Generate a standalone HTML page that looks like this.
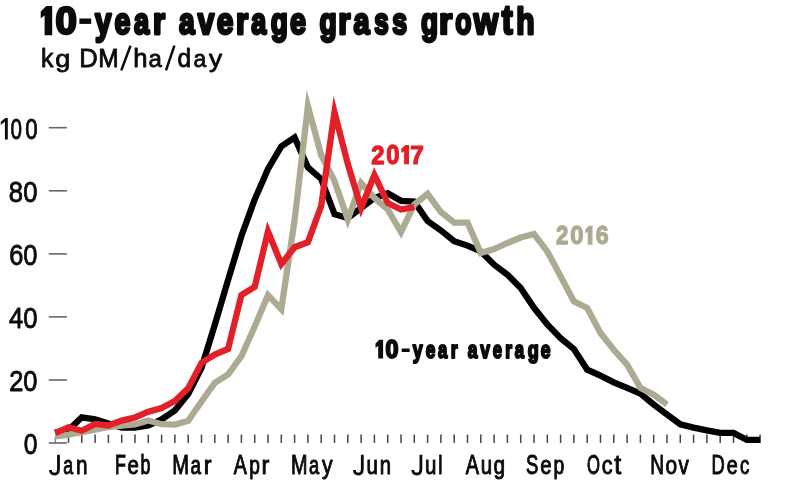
<!DOCTYPE html>
<html><head><meta charset="utf-8"><title>10-year average grass growth</title>
<style>html,body{margin:0;padding:0;background:#fff;}svg{display:block;}body{font-family:"Liberation Sans",sans-serif;}</style></head>
<body>
<svg width="790" height="482" viewBox="0 0 790 482">
<rect width="790" height="482" fill="#fff"/>
<g stroke="#666" stroke-width="1.6">
<line x1="48.8" x2="66.9" y1="127.7" y2="127.7"/>
<line x1="48.8" x2="66.9" y1="190.8" y2="190.8"/>
<line x1="48.8" x2="66.9" y1="253.9" y2="253.9"/>
<line x1="48.8" x2="66.9" y1="316.9" y2="316.9"/>
<line x1="48.8" x2="66.9" y1="380.0" y2="380.0"/>
<line x1="48.8" x2="66.9" y1="443.0" y2="443.0"/>
</g>
<g stroke="#444" stroke-width="1.5">
<line x1="68.5" x2="68.5" y1="434.6" y2="442.9"/>
<line x1="81.8" x2="81.8" y1="434.6" y2="442.9"/>
<line x1="95.1" x2="95.1" y1="434.6" y2="442.9"/>
<line x1="108.4" x2="108.4" y1="434.6" y2="442.9"/>
<line x1="121.7" x2="121.7" y1="434.6" y2="442.9"/>
<line x1="135.0" x2="135.0" y1="434.6" y2="442.9"/>
<line x1="148.3" x2="148.3" y1="434.6" y2="442.9"/>
<line x1="161.6" x2="161.6" y1="434.6" y2="442.9"/>
<line x1="174.9" x2="174.9" y1="434.6" y2="442.9"/>
<line x1="188.2" x2="188.2" y1="434.6" y2="442.9"/>
<line x1="201.5" x2="201.5" y1="434.6" y2="442.9"/>
<line x1="214.8" x2="214.8" y1="434.6" y2="442.9"/>
<line x1="228.1" x2="228.1" y1="434.6" y2="442.9"/>
<line x1="241.4" x2="241.4" y1="434.6" y2="442.9"/>
<line x1="254.7" x2="254.7" y1="434.6" y2="442.9"/>
<line x1="268.0" x2="268.0" y1="434.6" y2="442.9"/>
<line x1="281.3" x2="281.3" y1="434.6" y2="442.9"/>
<line x1="294.6" x2="294.6" y1="434.6" y2="442.9"/>
<line x1="307.9" x2="307.9" y1="434.6" y2="442.9"/>
<line x1="321.2" x2="321.2" y1="434.6" y2="442.9"/>
<line x1="334.5" x2="334.5" y1="434.6" y2="442.9"/>
<line x1="347.8" x2="347.8" y1="434.6" y2="442.9"/>
<line x1="361.1" x2="361.1" y1="434.6" y2="442.9"/>
<line x1="374.4" x2="374.4" y1="434.6" y2="442.9"/>
<line x1="387.7" x2="387.7" y1="434.6" y2="442.9"/>
<line x1="401.0" x2="401.0" y1="434.6" y2="442.9"/>
<line x1="414.3" x2="414.3" y1="434.6" y2="442.9"/>
<line x1="427.6" x2="427.6" y1="434.6" y2="442.9"/>
<line x1="440.9" x2="440.9" y1="434.6" y2="442.9"/>
<line x1="454.2" x2="454.2" y1="434.6" y2="442.9"/>
<line x1="467.5" x2="467.5" y1="434.6" y2="442.9"/>
<line x1="480.8" x2="480.8" y1="434.6" y2="442.9"/>
<line x1="494.1" x2="494.1" y1="434.6" y2="442.9"/>
<line x1="507.4" x2="507.4" y1="434.6" y2="442.9"/>
<line x1="520.7" x2="520.7" y1="434.6" y2="442.9"/>
<line x1="534.0" x2="534.0" y1="434.6" y2="442.9"/>
<line x1="547.3" x2="547.3" y1="434.6" y2="442.9"/>
<line x1="560.6" x2="560.6" y1="434.6" y2="442.9"/>
<line x1="573.9" x2="573.9" y1="434.6" y2="442.9"/>
<line x1="587.2" x2="587.2" y1="434.6" y2="442.9"/>
<line x1="600.5" x2="600.5" y1="434.6" y2="442.9"/>
<line x1="613.8" x2="613.8" y1="434.6" y2="442.9"/>
<line x1="627.1" x2="627.1" y1="434.6" y2="442.9"/>
<line x1="640.4" x2="640.4" y1="434.6" y2="442.9"/>
<line x1="653.7" x2="653.7" y1="434.6" y2="442.9"/>
<line x1="667.0" x2="667.0" y1="434.6" y2="442.9"/>
<line x1="680.3" x2="680.3" y1="434.6" y2="442.9"/>
<line x1="693.6" x2="693.6" y1="434.6" y2="442.9"/>
<line x1="706.9" x2="706.9" y1="434.6" y2="442.9"/>
<line x1="720.2" x2="720.2" y1="434.6" y2="442.9"/>
<line x1="733.5" x2="733.5" y1="434.6" y2="442.9"/>
<line x1="746.8" x2="746.8" y1="434.6" y2="442.9"/>
<line x1="760.1" x2="760.1" y1="434.6" y2="442.9"/>
</g>
<line x1="55.2" x2="55.2" y1="437" y2="442.9" stroke="#666" stroke-width="1.1"/>
<path d="M55.2 432.6 L68.5 430.0 L81.8 417.3 L95.1 419.4 L108.4 423.5 L121.7 427.5 L135.0 427.5 L148.3 425.5 L161.6 419.4 L174.9 410.3 L188.2 394.0 L201.5 367.8 L214.8 324.8 L228.1 279.8 L241.4 236.0 L254.7 199.5 L268.0 169.0 L281.3 146.5 L294.6 137.4 L307.9 167.4 L321.2 179.0 L334.5 214.2 L347.8 218.0 L361.1 208.0 L374.4 198.0 L387.7 193.3 L401.0 200.8 L414.3 201.6 L427.6 221.0 L440.9 230.4 L454.2 241.2 L467.5 245.6 L480.8 251.4 L494.1 264.7 L507.4 274.6 L520.7 287.9 L534.0 307.8 L547.3 324.4 L560.6 338.1 L573.9 349.1 L587.2 369.7 L600.5 375.6 L613.8 382.3 L627.1 387.9 L640.4 393.6 L653.7 404.5 L667.0 414.5 L680.3 424.4 L693.6 427.6 L706.9 430.3 L720.2 432.9 L733.5 432.9 L746.8 439.9 L760.1 439.9" fill="none" stroke="#000" stroke-width="6.3" stroke-linejoin="miter" stroke-miterlimit="10" stroke-linecap="butt"/>
<path d="M55.2 436.4 L68.5 434.6 L81.8 432.2 L95.1 429.6 L108.4 427.0 L121.7 425.5 L135.0 424.5 L148.3 420.5 L161.6 424.2 L174.9 424.6 L188.2 420.7 L201.5 401.5 L214.8 382.8 L228.1 374.5 L241.4 356.2 L254.7 326.5 L268.0 295.2 L281.3 309.2 L294.6 220.0 L307.9 106.2 L321.2 155.0 L334.5 181.0 L347.8 219.5 L361.1 183.0 L374.4 197.9 L387.7 209.5 L401.0 232.0 L414.3 204.5 L427.6 193.8 L440.9 212.0 L454.2 222.6 L467.5 222.6 L480.8 253.0 L494.1 249.0 L507.4 243.0 L520.7 237.5 L534.0 234.0 L547.3 251.4 L560.6 276.3 L573.9 301.4 L587.2 308.0 L600.5 333.0 L613.8 349.8 L627.1 364.7 L640.4 387.9 L653.7 394.6 L667.0 404.5" fill="none" stroke="#adaa93" stroke-width="6.3" stroke-linejoin="miter" stroke-miterlimit="10" stroke-linecap="butt"/>
<path d="M55.2 433.2 L68.5 427.3 L81.8 430.7 L95.1 423.9 L108.4 425.5 L121.7 420.6 L135.0 417.5 L148.3 411.7 L161.6 408.0 L174.9 401.0 L188.2 388.2 L201.5 362.9 L214.8 354.6 L228.1 349.0 L241.4 295.0 L254.7 286.9 L268.0 231.5 L281.3 264.0 L294.6 247.2 L307.9 242.2 L321.2 206.0 L334.5 112.2 L347.8 164.0 L361.1 208.0 L374.4 175.0 L387.7 203.0 L401.0 209.5 L414.3 207.2" fill="none" stroke="#e31f28" stroke-width="6.3" stroke-linejoin="miter" stroke-miterlimit="10" stroke-linecap="butt"/>
<path d="M52.2 5.9 L46.3 5.9 L40.7 11.6 L40.7 18.2 L44.6 15.6 L44.6 35.2 L52.2 35.2 Z" fill="#0b0b0b"/><path d="M121.3 70.4 L130.5 45.7 M166.0 70.4 L174.4 45.7" stroke="#0b0b0b" stroke-width="2.5" fill="none"/><path d="M409 144.9 L405.3 144.9 L401.3 148.8 L401.3 153.0 L404.1 151.2 L404.1 164.3 L409 164.3 Z" fill="#e31f28"/><path d="M592.5 225.7 L588.9 225.7 L585.3 229.4 L585.3 233.6 L587.7 231.8 L587.7 244.7 L592.5 244.7 Z" fill="#adaa93"/><path d="M383.1 339.8 L379.4 339.8 L375.5 343.6 L375.5 347.8 L378.2 346.0 L378.2 358.5 L383.1 358.5 Z" fill="#0b0b0b"/><rect x="79.4" y="18.5" width="11.8" height="5.4" fill="#0b0b0b"/><rect x="401.7" y="348.5" width="8.0" height="3.5" fill="#0b0b0b"/><path d="M7.8 117.9 L5.3 117.9 L0.8 121.8 L0.8 125.0 L4.9 121.6 L4.9 139.5 L7.8 139.5 Z" fill="#0b0b0b"/><path d="M58.50 454.80 V468.40 C58.50 472.60 56.70 474.00 54.50 474.00 S50.50 473.00 50.50 470.00" fill="none" stroke="#0b0b0b" stroke-width="2.8"/><path d="M362.30 454.80 V468.40 C362.30 472.60 360.50 474.00 358.35 474.00 S354.40 473.00 354.40 470.00" fill="none" stroke="#0b0b0b" stroke-width="2.8"/><path d="M420.90 454.80 V468.40 C420.90 472.60 419.10 474.00 416.85 474.00 S412.80 473.00 412.80 470.00" fill="none" stroke="#0b0b0b" stroke-width="2.8"/>
<g opacity="0.999" font-family="'Liberation Sans', sans-serif" font-size="100" stroke-linejoin="round">
<text transform="translate(55.50 34.31) scale(0.3837 0.3944)" font-weight="bold" fill="#0b0b0b" stroke="#0b0b0b" stroke-width="2.6" vector-effect="non-scaling-stroke">0</text>
<text transform="translate(95.05 34.01) scale(0.2946 0.3662)" font-weight="bold" fill="#0b0b0b" stroke="#0b0b0b" stroke-width="2.6" vector-effect="non-scaling-stroke">y</text>
<text transform="translate(114.39 34.23) scale(0.2860 0.3709)" font-weight="bold" fill="#0b0b0b" stroke="#0b0b0b" stroke-width="2.6" vector-effect="non-scaling-stroke">e</text>
<text transform="translate(133.90 34.23) scale(0.2727 0.3709)" font-weight="bold" fill="#0b0b0b" stroke="#0b0b0b" stroke-width="2.6" vector-effect="non-scaling-stroke">a</text>
<text transform="translate(152.89 34.10) scale(0.3094 0.3611)" font-weight="bold" fill="#0b0b0b" stroke="#0b0b0b" stroke-width="2.6" vector-effect="non-scaling-stroke">r</text>
<text transform="translate(178.89 34.23) scale(0.2818 0.3709)" font-weight="bold" fill="#0b0b0b" stroke="#0b0b0b" stroke-width="2.6" vector-effect="non-scaling-stroke">a</text>
<text transform="translate(197.65 34.10) scale(0.2964 0.3679)" font-weight="bold" fill="#0b0b0b" stroke="#0b0b0b" stroke-width="2.6" vector-effect="non-scaling-stroke">v</text>
<text transform="translate(216.75 34.23) scale(0.3000 0.3709)" font-weight="bold" fill="#0b0b0b" stroke="#0b0b0b" stroke-width="2.6" vector-effect="non-scaling-stroke">e</text>
<text transform="translate(235.98 34.10) scale(0.3125 0.3611)" font-weight="bold" fill="#0b0b0b" stroke="#0b0b0b" stroke-width="2.6" vector-effect="non-scaling-stroke">r</text>
<text transform="translate(251.31 34.23) scale(0.2691 0.3709)" font-weight="bold" fill="#0b0b0b" stroke="#0b0b0b" stroke-width="2.6" vector-effect="non-scaling-stroke">a</text>
<text transform="translate(270.73 34.10) scale(0.2804 0.3618)" font-weight="bold" fill="#0b0b0b" stroke="#0b0b0b" stroke-width="2.6" vector-effect="non-scaling-stroke">g</text>
<text transform="translate(289.89 34.23) scale(0.2880 0.3709)" font-weight="bold" fill="#0b0b0b" stroke="#0b0b0b" stroke-width="2.6" vector-effect="non-scaling-stroke">e</text>
<text transform="translate(319.42 34.10) scale(0.2824 0.3618)" font-weight="bold" fill="#0b0b0b" stroke="#0b0b0b" stroke-width="2.6" vector-effect="non-scaling-stroke">g</text>
<text transform="translate(338.28 34.10) scale(0.3125 0.3611)" font-weight="bold" fill="#0b0b0b" stroke="#0b0b0b" stroke-width="2.6" vector-effect="non-scaling-stroke">r</text>
<text transform="translate(353.47 34.23) scale(0.2891 0.3709)" font-weight="bold" fill="#0b0b0b" stroke="#0b0b0b" stroke-width="2.6" vector-effect="non-scaling-stroke">a</text>
<text transform="translate(374.17 34.23) scale(0.2592 0.3709)" font-weight="bold" fill="#0b0b0b" stroke="#0b0b0b" stroke-width="2.6" vector-effect="non-scaling-stroke">s</text>
<text transform="translate(392.15 34.23) scale(0.2673 0.3709)" font-weight="bold" fill="#0b0b0b" stroke="#0b0b0b" stroke-width="2.6" vector-effect="non-scaling-stroke">s</text>
<text transform="translate(420.94 34.10) scale(0.2784 0.3618)" font-weight="bold" fill="#0b0b0b" stroke="#0b0b0b" stroke-width="2.6" vector-effect="non-scaling-stroke">g</text>
<text transform="translate(439.01 34.10) scale(0.3406 0.3611)" font-weight="bold" fill="#0b0b0b" stroke="#0b0b0b" stroke-width="2.6" vector-effect="non-scaling-stroke">r</text>
<text transform="translate(455.35 34.23) scale(0.2655 0.3709)" font-weight="bold" fill="#0b0b0b" stroke="#0b0b0b" stroke-width="2.6" vector-effect="non-scaling-stroke">o</text>
<text transform="translate(473.86 34.10) scale(0.3139 0.3679)" font-weight="bold" fill="#0b0b0b" stroke="#0b0b0b" stroke-width="2.6" vector-effect="non-scaling-stroke">w</text>
<text transform="translate(501.72 34.09) scale(0.3281 0.4119)" font-weight="bold" fill="#0b0b0b" stroke="#0b0b0b" stroke-width="2.6" vector-effect="non-scaling-stroke">t</text>
<text transform="translate(516.25 34.10) scale(0.3000 0.3753)" font-weight="bold" fill="#0b0b0b" stroke="#0b0b0b" stroke-width="2.6" vector-effect="non-scaling-stroke">h</text>
<text transform="translate(40.91 66.80) scale(0.2489 0.2548)" font-weight="normal" fill="#0b0b0b" stroke="#0b0b0b" stroke-width="0.8" vector-effect="non-scaling-stroke">k</text>
<text transform="translate(55.21 67.15) scale(0.2717 0.2453)" font-weight="normal" fill="#0b0b0b" stroke="#0b0b0b" stroke-width="0.8" vector-effect="non-scaling-stroke">g</text>
<text transform="translate(79.15 66.80) scale(0.2567 0.2580)" font-weight="normal" fill="#0b0b0b" stroke="#0b0b0b" stroke-width="0.8" vector-effect="non-scaling-stroke">D</text>
<text transform="translate(98.24 66.80) scale(0.2456 0.2580)" font-weight="normal" fill="#0b0b0b" stroke="#0b0b0b" stroke-width="0.8" vector-effect="non-scaling-stroke">M</text>
<text transform="translate(133.26 66.80) scale(0.2568 0.2548)" font-weight="normal" fill="#0b0b0b" stroke="#0b0b0b" stroke-width="0.8" vector-effect="non-scaling-stroke">h</text>
<text transform="translate(148.44 66.86) scale(0.2404 0.2400)" font-weight="normal" fill="#0b0b0b" stroke="#0b0b0b" stroke-width="0.8" vector-effect="non-scaling-stroke">a</text>
<text transform="translate(177.53 66.84) scale(0.2435 0.2554)" font-weight="normal" fill="#0b0b0b" stroke="#0b0b0b" stroke-width="0.8" vector-effect="non-scaling-stroke">d</text>
<text transform="translate(193.38 66.86) scale(0.2288 0.2400)" font-weight="normal" fill="#0b0b0b" stroke="#0b0b0b" stroke-width="0.8" vector-effect="non-scaling-stroke">a</text>
<text transform="translate(208.90 67.19) scale(0.2620 0.2432)" font-weight="normal" fill="#0b0b0b" stroke="#0b0b0b" stroke-width="0.8" vector-effect="non-scaling-stroke">y</text>
<text transform="translate(371.18 163.70) scale(0.2388 0.2657)" font-weight="bold" fill="#e31f28" stroke="#e31f28" stroke-width="1.2" vector-effect="non-scaling-stroke">2</text>
<text transform="translate(386.18 163.83) scale(0.2388 0.2704)" font-weight="bold" fill="#e31f28" stroke="#e31f28" stroke-width="1.2" vector-effect="non-scaling-stroke">0</text>
<text transform="translate(410.23 163.70) scale(0.2437 0.2600)" font-weight="bold" fill="#e31f28" stroke="#e31f28" stroke-width="1.2" vector-effect="non-scaling-stroke">7</text>
<text transform="translate(556.03 244.10) scale(0.2224 0.2600)" font-weight="bold" fill="#adaa93" stroke="#adaa93" stroke-width="1.2" vector-effect="non-scaling-stroke">2</text>
<text transform="translate(570.18 244.24) scale(0.2388 0.2648)" font-weight="bold" fill="#adaa93" stroke="#adaa93" stroke-width="1.2" vector-effect="non-scaling-stroke">0</text>
<text transform="translate(595.71 244.24) scale(0.2306 0.2620)" font-weight="bold" fill="#adaa93" stroke="#adaa93" stroke-width="1.2" vector-effect="non-scaling-stroke">6</text>
<text transform="translate(385.55 357.80) scale(0.2327 0.2507)" font-weight="bold" fill="#0b0b0b" stroke="#0b0b0b" stroke-width="1.9" vector-effect="non-scaling-stroke">0</text>
<text transform="translate(412.85 357.73) scale(0.1786 0.2392)" font-weight="bold" fill="#0b0b0b" stroke="#0b0b0b" stroke-width="1.9" vector-effect="non-scaling-stroke">y</text>
<text transform="translate(425.63 357.71) scale(0.1720 0.2436)" font-weight="bold" fill="#0b0b0b" stroke="#0b0b0b" stroke-width="1.9" vector-effect="non-scaling-stroke">e</text>
<text transform="translate(438.12 357.71) scale(0.1673 0.2436)" font-weight="bold" fill="#0b0b0b" stroke="#0b0b0b" stroke-width="1.9" vector-effect="non-scaling-stroke">a</text>
<text transform="translate(450.68 357.65) scale(0.1781 0.2370)" font-weight="bold" fill="#0b0b0b" stroke="#0b0b0b" stroke-width="1.9" vector-effect="non-scaling-stroke">r</text>
<text transform="translate(467.80 357.71) scale(0.1745 0.2436)" font-weight="bold" fill="#0b0b0b" stroke="#0b0b0b" stroke-width="1.9" vector-effect="non-scaling-stroke">a</text>
<text transform="translate(480.15 357.65) scale(0.1750 0.2415)" font-weight="bold" fill="#0b0b0b" stroke="#0b0b0b" stroke-width="1.9" vector-effect="non-scaling-stroke">v</text>
<text transform="translate(492.85 357.71) scale(0.1660 0.2436)" font-weight="bold" fill="#0b0b0b" stroke="#0b0b0b" stroke-width="1.9" vector-effect="non-scaling-stroke">e</text>
<text transform="translate(505.20 357.65) scale(0.1750 0.2370)" font-weight="bold" fill="#0b0b0b" stroke="#0b0b0b" stroke-width="1.9" vector-effect="non-scaling-stroke">r</text>
<text transform="translate(514.72 357.71) scale(0.1673 0.2436)" font-weight="bold" fill="#0b0b0b" stroke="#0b0b0b" stroke-width="1.9" vector-effect="non-scaling-stroke">a</text>
<text transform="translate(527.63 357.72) scale(0.1804 0.2395)" font-weight="bold" fill="#0b0b0b" stroke="#0b0b0b" stroke-width="1.9" vector-effect="non-scaling-stroke">g</text>
<text transform="translate(540.73 357.71) scale(0.1740 0.2436)" font-weight="bold" fill="#0b0b0b" stroke="#0b0b0b" stroke-width="1.9" vector-effect="non-scaling-stroke">e</text>
<text transform="translate(10.48 138.91) scale(0.2061 0.2930)" font-weight="normal" fill="#0b0b0b" stroke="#0b0b0b" stroke-width="0.8" vector-effect="non-scaling-stroke">0</text>
<text transform="translate(8.87 202.01) scale(0.2567 0.2930)" font-weight="normal" fill="#0b0b0b" stroke="#0b0b0b" stroke-width="0.8" vector-effect="non-scaling-stroke">80</text>
<text transform="translate(9.13 265.11) scale(0.2543 0.2930)" font-weight="normal" fill="#0b0b0b" stroke="#0b0b0b" stroke-width="0.8" vector-effect="non-scaling-stroke">60</text>
<text transform="translate(8.89 328.11) scale(0.2566 0.2930)" font-weight="normal" fill="#0b0b0b" stroke="#0b0b0b" stroke-width="0.8" vector-effect="non-scaling-stroke">40</text>
<text transform="translate(9.13 391.21) scale(0.2543 0.2930)" font-weight="normal" fill="#0b0b0b" stroke="#0b0b0b" stroke-width="0.8" vector-effect="non-scaling-stroke">20</text>
<text transform="translate(23.86 454.21) scale(0.2469 0.2930)" font-weight="normal" fill="#0b0b0b" stroke="#0b0b0b" stroke-width="0.8" vector-effect="non-scaling-stroke">0</text>
<text transform="translate(25.13 138.91) scale(0.2224 0.2930)" font-weight="normal" fill="#0b0b0b" stroke="#0b0b0b" stroke-width="0.8" vector-effect="non-scaling-stroke">0</text>
<text transform="translate(63.24 474.38) scale(0.1769 0.2655)" font-weight="normal" fill="#0b0b0b" stroke="#0b0b0b" stroke-width="0.9" vector-effect="non-scaling-stroke">a</text>
<text transform="translate(76.01 474.25) scale(0.2068 0.2574)" font-weight="normal" fill="#0b0b0b" stroke="#0b0b0b" stroke-width="0.9" vector-effect="non-scaling-stroke">n</text>
<text transform="translate(115.03 474.25) scale(0.1780 0.2710)" font-weight="normal" fill="#0b0b0b" stroke="#0b0b0b" stroke-width="0.9" vector-effect="non-scaling-stroke">F</text>
<text transform="translate(127.53 474.38) scale(0.2042 0.2655)" font-weight="normal" fill="#0b0b0b" stroke="#0b0b0b" stroke-width="0.9" vector-effect="non-scaling-stroke">e</text>
<text transform="translate(140.48 474.38) scale(0.1783 0.2676)" font-weight="normal" fill="#0b0b0b" stroke="#0b0b0b" stroke-width="0.9" vector-effect="non-scaling-stroke">b</text>
<text transform="translate(172.24 474.25) scale(0.2015 0.2710)" font-weight="normal" fill="#0b0b0b" stroke="#0b0b0b" stroke-width="0.9" vector-effect="non-scaling-stroke">M</text>
<text transform="translate(190.50 474.38) scale(0.1885 0.2655)" font-weight="normal" fill="#0b0b0b" stroke="#0b0b0b" stroke-width="0.9" vector-effect="non-scaling-stroke">a</text>
<text transform="translate(203.74 474.25) scale(0.2346 0.2574)" font-weight="normal" fill="#0b0b0b" stroke="#0b0b0b" stroke-width="0.9" vector-effect="non-scaling-stroke">r</text>
<text transform="translate(233.65 474.25) scale(0.1955 0.2710)" font-weight="normal" fill="#0b0b0b" stroke="#0b0b0b" stroke-width="0.9" vector-effect="non-scaling-stroke">A</text>
<text transform="translate(249.30 474.45) scale(0.1913 0.2667)" font-weight="normal" fill="#0b0b0b" stroke="#0b0b0b" stroke-width="0.9" vector-effect="non-scaling-stroke">p</text>
<text transform="translate(261.54 474.25) scale(0.2346 0.2574)" font-weight="normal" fill="#0b0b0b" stroke="#0b0b0b" stroke-width="0.9" vector-effect="non-scaling-stroke">r</text>
<text transform="translate(291.06 474.25) scale(0.1985 0.2710)" font-weight="normal" fill="#0b0b0b" stroke="#0b0b0b" stroke-width="0.9" vector-effect="non-scaling-stroke">M</text>
<text transform="translate(309.12 474.38) scale(0.1827 0.2655)" font-weight="normal" fill="#0b0b0b" stroke="#0b0b0b" stroke-width="0.9" vector-effect="non-scaling-stroke">a</text>
<text transform="translate(321.95 474.46) scale(0.2120 0.2662)" font-weight="normal" fill="#0b0b0b" stroke="#0b0b0b" stroke-width="0.9" vector-effect="non-scaling-stroke">y</text>
<text transform="translate(366.42 474.39) scale(0.2047 0.2593)" font-weight="normal" fill="#0b0b0b" stroke="#0b0b0b" stroke-width="0.9" vector-effect="non-scaling-stroke">u</text>
<text transform="translate(379.64 474.25) scale(0.2023 0.2574)" font-weight="normal" fill="#0b0b0b" stroke="#0b0b0b" stroke-width="0.9" vector-effect="non-scaling-stroke">n</text>
<text transform="translate(425.02 474.39) scale(0.2047 0.2593)" font-weight="normal" fill="#0b0b0b" stroke="#0b0b0b" stroke-width="0.9" vector-effect="non-scaling-stroke">u</text>
<text transform="translate(438.31 474.25) scale(0.1900 0.2658)" font-weight="normal" fill="#0b0b0b" stroke="#0b0b0b" stroke-width="0.9" vector-effect="non-scaling-stroke">l</text>
<text transform="translate(465.65 474.25) scale(0.1985 0.2710)" font-weight="normal" fill="#0b0b0b" stroke="#0b0b0b" stroke-width="0.9" vector-effect="non-scaling-stroke">A</text>
<text transform="translate(480.72 474.39) scale(0.2047 0.2593)" font-weight="normal" fill="#0b0b0b" stroke="#0b0b0b" stroke-width="0.9" vector-effect="non-scaling-stroke">u</text>
<text transform="translate(493.62 474.45) scale(0.2087 0.2667)" font-weight="normal" fill="#0b0b0b" stroke="#0b0b0b" stroke-width="0.9" vector-effect="non-scaling-stroke">g</text>
<text transform="translate(526.01 474.47) scale(0.1847 0.2750)" font-weight="normal" fill="#0b0b0b" stroke="#0b0b0b" stroke-width="0.9" vector-effect="non-scaling-stroke">S</text>
<text transform="translate(540.23 474.38) scale(0.2042 0.2655)" font-weight="normal" fill="#0b0b0b" stroke="#0b0b0b" stroke-width="0.9" vector-effect="non-scaling-stroke">e</text>
<text transform="translate(553.39 474.45) scale(0.1935 0.2667)" font-weight="normal" fill="#0b0b0b" stroke="#0b0b0b" stroke-width="0.9" vector-effect="non-scaling-stroke">p</text>
<text transform="translate(587.08 474.47) scale(0.1667 0.2789)" font-weight="normal" fill="#0b0b0b" stroke="#0b0b0b" stroke-width="0.9" vector-effect="non-scaling-stroke">O</text>
<text transform="translate(601.79 474.38) scale(0.2159 0.2655)" font-weight="normal" fill="#0b0b0b" stroke="#0b0b0b" stroke-width="0.9" vector-effect="non-scaling-stroke">c</text>
<text transform="translate(614.20 474.37) scale(0.2519 0.2788)" font-weight="normal" fill="#0b0b0b" stroke="#0b0b0b" stroke-width="0.9" vector-effect="non-scaling-stroke">t</text>
<text transform="translate(650.22 474.25) scale(0.1912 0.2710)" font-weight="normal" fill="#0b0b0b" stroke="#0b0b0b" stroke-width="0.9" vector-effect="non-scaling-stroke">N</text>
<text transform="translate(665.52 474.38) scale(0.2083 0.2655)" font-weight="normal" fill="#0b0b0b" stroke="#0b0b0b" stroke-width="0.9" vector-effect="non-scaling-stroke">o</text>
<text transform="translate(678.55 474.25) scale(0.2060 0.2623)" font-weight="normal" fill="#0b0b0b" stroke="#0b0b0b" stroke-width="0.9" vector-effect="non-scaling-stroke">v</text>
<text transform="translate(711.48 474.25) scale(0.1833 0.2710)" font-weight="normal" fill="#0b0b0b" stroke="#0b0b0b" stroke-width="0.9" vector-effect="non-scaling-stroke">D</text>
<text transform="translate(726.86 474.38) scale(0.1979 0.2655)" font-weight="normal" fill="#0b0b0b" stroke="#0b0b0b" stroke-width="0.9" vector-effect="non-scaling-stroke">e</text>
<text transform="translate(740.10 474.38) scale(0.1864 0.2655)" font-weight="normal" fill="#0b0b0b" stroke="#0b0b0b" stroke-width="0.9" vector-effect="non-scaling-stroke">c</text>
</g>
</svg>
</body></html>
